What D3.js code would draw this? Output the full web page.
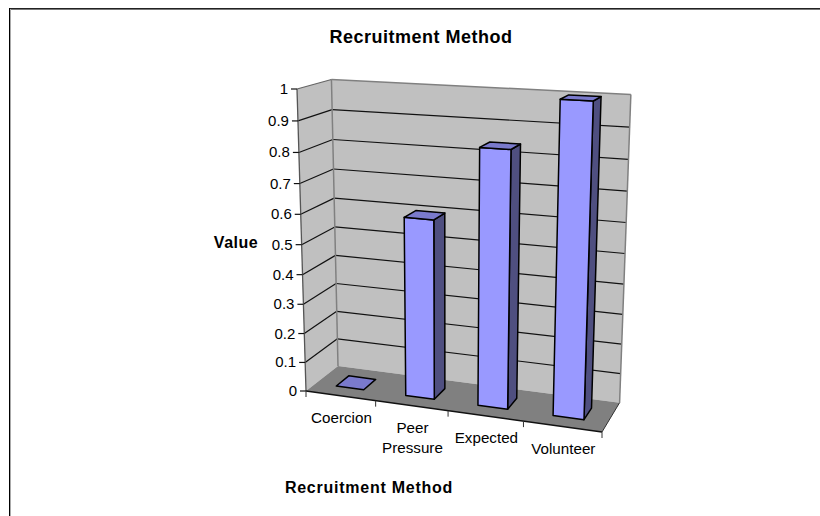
<!DOCTYPE html>
<html>
<head>
<meta charset="utf-8">
<style>
html, body { margin: 0; padding: 0; background: #fff; }
svg { display: block; }
text { font-family: "Liberation Sans", Arial, sans-serif; fill: #000; }
</style>
<script src="https://cdn.jsdelivr.net/npm/d3@7"></script>
</head>
<body>
<svg id="chart" width="820" height="516"></svg>
<script>
var chartTitle = 'Recruitment Method';
var xTitle = 'Recruitment Method';
var yTitle = 'Value';
var categories = ['Coercion', 'Peer Pressure', 'Expected', 'Volunteer'];
var values = [0, 0.6, 0.84, 1];
var yTicks = [0, 0.1, 0.2, 0.3, 0.4, 0.5, 0.6, 0.7, 0.8, 0.9, 1];

var svg = d3.select('#chart');

var line = d3.line();
function poly(pts, fill, stroke, sw) {
	svg.append('path')
		.attr('d', line(pts) + 'Z')
		.attr('fill', fill)
		.attr('stroke', stroke || 'none')
		.attr('stroke-width', sw || 1)
		.attr('stroke-linejoin', 'round');
}
function seg(a, b, stroke, sw) {
	svg.append('path')
		.attr('d', line([a, b]))
		.attr('fill', 'none')
		.attr('stroke', stroke)
		.attr('stroke-width', sw || 1);
}

// frame, open on the right and at the bottom
seg([10, 9.5], [820, 9.5], '#777', 1);
seg([9, 8.5], [820, 8.5], '#222', 1);
seg([10.5, 9], [10.5, 516], '#aaa', 1);
seg([9.5, 8], [9.5, 516], '#000', 1);

// projection of the unit cube, fitted to the corners of the plot box
// A front-bottom-left, X front-bottom-right, Y back-bottom-left, Z front-top-left
var A = [306, 391], X = [602, 432], Y = [338, 366], Z = [297, 89];
var wx = -0.077, wy = 0.056, wz = -0.06;
function project(x, y, z) {
	var w = 1 + wx * x + wy * y + wz * z;
	return [0, 1].map(function(i) {
		return (A[i] + (X[i] * (1 + wx) - A[i]) * x + (Y[i] * (1 + wy) - A[i]) * y + (Z[i] * (1 + wz) - A[i]) * z) / w;
	});
}

var xScale = d3.scaleBand().domain(categories).range([0, 1]).paddingInner(0.6).paddingOuter(0.3);
var depthScale = d3.scaleBand().domain(['s']).range([0, 1]).paddingInner(0.6).paddingOuter(0.3);
var zScale = d3.scaleLinear().domain([0, 1]).range([0, 1]);

// walls and floor
poly([project(0, 0, 0), project(0, 1, 0), project(0, 1, 1), project(0, 0, 1)], '#c0c0c0');
poly([project(0, 1, 0), project(1, 1, 0), project(1, 1, 1), project(0, 1, 1)], '#c0c0c0');
poly([project(0, 0, 0), project(1, 0, 0), project(1, 1, 0), project(0, 1, 0)], '#808080');

// gridlines
yTicks.slice(1, -1).forEach(function(t) {
	var z = zScale(t);
	seg(project(0, 0, z), project(0, 1, z), '#111', 1.2);
	seg(project(0, 1, z), project(1, 1, z), '#111', 1.2);
});

// wall edges
seg(project(0, 1, 0), project(0, 1, 1), '#808080', 1.5);
seg(project(0, 1, 1), project(1, 1, 1), '#808080', 1.5);
seg(project(1, 1, 1), project(1, 1, 0), '#808080', 1.5);
seg(project(0, 0, 1), project(0, 1, 1), '#666', 1.2);

// axis lines
seg(project(0, 0, 0), project(0, 0, 1), '#555', 1.3);
seg(project(0, 0, 0), project(1, 0, 0), '#111', 1.3);
seg(project(1, 0, 0), project(1, 1, 0), '#333', 1);

// value axis ticks and labels
yTicks.forEach(function(t) {
	var p = project(0, 0, zScale(t));
	seg([p[0] - 6, p[1]], p, '#111', 1.2);
	svg.append('text')
		.attr('x', p[0] - 9)
		.attr('y', p[1] + 5)
		.attr('text-anchor', 'end')
		.attr('font-size', 15)
		.text(t);
});

// category ticks and labels
d3.range(categories.length + 1).forEach(function(i) {
	var p = project(i / categories.length, 0, 0);
	seg(p, [p[0], p[1] + 6], '#333', 1);
});
categories.forEach(function(c) {
	var p = project(xScale(c) + xScale.bandwidth() / 2, 0, 0);
	var t = svg.append('text')
		.attr('text-anchor', 'middle')
		.attr('font-size', 15.2);
	c.split(' ').forEach(function(w, j) {
		t.append('tspan')
			.attr('x', p[0] + 1)
			.attr('y', p[1] + 27 + j * 20)
			.text(w);
	});
});

// bars
var y0 = depthScale('s'), y1 = y0 + depthScale.bandwidth();
categories.forEach(function(c, i) {
	var x0 = xScale(c), x1 = x0 + xScale.bandwidth(), z = zScale(values[i]);
	if(z > 0) {
		poly([project(x1, y0, 0), project(x1, y1, 0), project(x1, y1, z), project(x1, y0, z)], '#4f4f80', '#000', 1.5);
		poly([project(x0, y0, 0), project(x1, y0, 0), project(x1, y0, z), project(x0, y0, z)], '#9999ff', '#000', 1.5);
	}
	poly([project(x0, y0, z), project(x1, y0, z), project(x1, y1, z), project(x0, y1, z)], '#7a7acc', '#000', 1.5);
});

// titles
svg.append('text').attr('x', 421).attr('y', 43).attr('text-anchor', 'middle')
	.attr('font-size', 18).attr('letter-spacing', 0.5).attr('font-weight', 'bold').text(chartTitle);
svg.append('text').attr('x', 369).attr('y', 493).attr('text-anchor', 'middle')
	.attr('font-size', 16).attr('letter-spacing', 0.75).attr('font-weight', 'bold').text(xTitle);
svg.append('text').attr('x', 236).attr('y', 248).attr('text-anchor', 'middle')
	.attr('font-size', 16).attr('letter-spacing', 0.5).attr('font-weight', 'bold').text(yTitle);
</script>
</body>
</html>
